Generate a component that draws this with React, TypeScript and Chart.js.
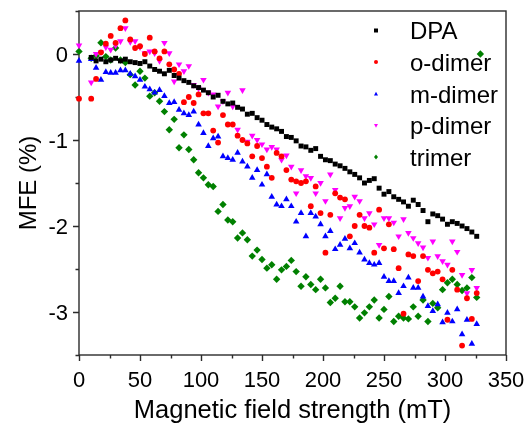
import React, { useEffect, useRef } from "react";
import { Chart, registerables } from "chart.js";

Chart.register(...registerables);

// Magnetic field strength (mT)
const fields = [0, 10, 14, 18, 22, 26, 30, 34, 38, 42, 46, 50, 54, 58, 62, 66, 70, 74, 78, 82, 86, 90, 94, 98, 102, 106, 110, 114, 118, 122, 126, 130, 134, 138, 142, 146, 150, 154, 158, 162, 166, 170, 174, 178, 182, 186, 190, 194, 198, 202, 206, 210, 214, 218, 222, 226, 230, 234, 238, 242, 246, 250, 254, 258, 262, 266, 270, 274, 278, 282, 286, 290, 294, 298, 302, 306, 310, 314, 318, 322, 326, 329];

// MFE (%) per series
const dpa = [null,
  -0.04, -0.08, -0.06, -0.09, -0.07, -0.05, -0.08, -0.06, -0.09, -0.10,
  -0.11, -0.09, -0.14, -0.18, -0.20, -0.23, -0.19, -0.25, -0.28, -0.31,
  -0.33, -0.37, -0.39, -0.42, -0.45, -0.50, -0.48, -0.55, -0.58, -0.57,
  -0.62, -0.64, -0.70, -0.69, -0.74, -0.77, -0.82, -0.85, -0.87, -0.90,
  -0.96, -0.97, -1.01, -1.07, -1.08, -1.12, -1.10, -1.19, -1.23, -1.24,
  -1.28, -1.30, -1.33, -1.37, -1.40, -1.44, -1.50, -1.47, -1.45, -1.56,
  -1.63, -1.60, -1.66, -1.69, -1.72, -1.77, -1.70, -1.75, -1.82, -1.95,
  -1.86, -1.88, -1.92, -1.98, -1.95, -1.97, -2.00, -2.03, -2.07, -2.12,
  null];

const oDimer = [-0.52,
  -0.52, -0.29, 0.02, 0.12, 0.21, 0.13, 0.30, 0.39, 0.17, 0.07,
  0.09, 0.00, 0.19, 0.03, -0.05, 0.03, -0.12, -0.18, -0.23, -0.56,
  -0.50, -0.57, -0.47, -0.69, -0.69, -0.89, -1.03, -0.71, -0.82, -0.82,
  -0.95, -1.00, -1.04, -1.19, -1.07, -1.21, -1.31, -1.44, -1.15, -1.19,
  -1.35, -1.46, -1.48, -1.50, -1.48, -1.77, -1.54, -1.85, -2.31, -1.87,
  -1.62, -1.67, -1.69, -2.12, -2.00, -1.87, -2.00, -2.02, -2.31, -1.81,
  -2.26, -1.98, -2.27, -2.49, -3.02, -2.33, -2.35, -2.64, -2.35, -2.51,
  -2.55, -2.53, -2.62, -3.09, -2.51, -2.74, -3.39, -2.84, -3.08, -2.78,
  null];

const mDimer = [-0.08,
  -0.06, -0.16, -0.30, -0.21, -0.22, -0.22, -0.19, -0.19, -0.23, -0.26,
  -0.30, -0.38, -0.41, -0.45, -0.42, -0.49, -0.57, -0.56, -0.65, -0.69,
  -0.71, -0.67, -0.82, -0.92, -1.07, -0.98, -0.96, -1.19, -1.21, -1.23,
  -1.15, -1.25, -1.31, -1.44, -1.35, -1.52, -1.40, -1.66, -1.75, -1.77,
  -1.69, -1.77, -1.95, -1.85, -2.12, -1.85, -1.89, -1.98, -2.12, -2.06,
  -2.27, -2.22, -2.15, -2.26, -2.20, -2.31, -2.39, -2.43, -2.45, -2.43,
  -2.59, -2.64, -2.64, -2.78, -2.70, -2.60, -2.72, -2.72, -2.82, -2.93,
  -2.99, -2.91, -3.12, -3.01, -3.11, -2.97, -3.26, -3.09, -3.37, -3.14,
  null];

const pDimer = [0.10,
  -0.33, 0.00, 0.02, 0.08, 0.05, 0.10, 0.15, 0.30, 0.14, 0.15,
  0.08, 0.01, 0.03, 0.01, -0.08, 0.13, 0.01, -0.32, -0.12, -0.20,
  -0.14, -0.36, -0.40, -0.30, -0.45, -0.47, -0.61, -0.55, -0.45, -0.61,
  -0.88, -0.42, -1.02, -0.95, -1.00, -1.05, -1.11, -1.08, -1.11, -1.23,
  -1.18, -1.31, -1.62, -1.35, -1.42, -1.44, -1.62, -1.50, -1.71, -1.40,
  -1.58, -1.91, -1.79, -1.77, -1.66, -1.71, -1.91, -1.85, -1.98, -2.22,
  -1.91, -1.91, -1.96, -2.12, -1.92, -2.08, -2.14, -2.20, -2.25, -2.37,
  -2.18, -2.35, -2.41, -2.45, -2.18, -2.30, -2.57, -2.78, -2.51, -2.72,
  null];

const trimer = [0.03,
  -0.05, -0.02, 0.13, -0.03, -0.07, 0.07, -0.07, -0.10, -0.24, -0.36,
  -0.20, -0.28, -0.49, -0.45, -0.55, -0.67, -0.88, -0.76, -1.09, -0.94,
  -1.11, -1.23, -1.38, -1.44, -1.52, -1.54, -1.83, -1.75, -1.93, -1.95,
  -2.14, -2.08, -2.16, -2.35, -2.28, -2.39, -2.49, -2.45, -2.62, -2.51,
  -2.47, -2.40, -2.53, -2.70, -2.59, -2.68, -2.74, -2.62, -2.72, -2.89,
  -2.84, -2.70, -2.88, -2.88, -2.94, -3.07, -3.01, -2.94, -2.86, -3.07,
  -2.97, -2.82, -3.11, -3.05, -3.07, -3.08, -2.94, -3.05, -2.86, -3.11,
  -2.90, -2.95, -2.74, -2.66, -2.62, -2.68, -2.75, -2.72, -2.60, -2.83,
  0.00];

const seriesLabels = ["DPA", "o-dimer", "m-dimer", "p-dimer", "trimer"];
const seriesColors = ["#000000", "#ff0000", "#0000ff", "#ff00ff", "#008000"];
const xTickValues = [0, 25, 50, 75, 100, 125, 150, 175, 200, 225, 250, 275, 300, 325, 350];
const xTickLabels = ["0", "50", "100", "150", "200", "250", "300", "350"];
const yTickValues = [-3.5, -3, -2.5, -2, -1.5, -1, -0.5, 0, 0.5];
const yTickLabels = ["-3", "-2", "-1", "0"];
const xTitle = "Magnetic field strength (mT)";
const yTitle = "MFE (%)";

const FONT = "'Liberation Sans', Arial, Helvetica, sans-serif";

function toPoints(vals: (number | null)[]) {
  const out: { x: number; y: number }[] = [];
  vals.forEach((v, i) => {
    if (v !== null && v !== undefined) out.push({ x: fields[i], y: v });
  });
  return out;
}

function drawMarker(ctx: CanvasRenderingContext2D, idx: number, x: number, y: number, r: number) {
  ctx.beginPath();
  if (idx === 0) {
    ctx.rect(x - r, y - r, 2 * r, 2 * r);
  } else if (idx === 1) {
    ctx.arc(x, y, r, 0, Math.PI * 2);
  } else if (idx === 2) {
    ctx.moveTo(x, y - r * 1.1);
    ctx.lineTo(x + r, y + r * 0.8);
    ctx.lineTo(x - r, y + r * 0.8);
    ctx.closePath();
  } else if (idx === 3) {
    ctx.moveTo(x, y + r * 1.1);
    ctx.lineTo(x + r, y - r * 0.8);
    ctx.lineTo(x - r, y - r * 0.8);
    ctx.closePath();
  } else {
    ctx.moveTo(x, y - r * 1.2);
    ctx.lineTo(x + r, y);
    ctx.lineTo(x, y + r * 1.2);
    ctx.lineTo(x - r, y);
    ctx.closePath();
  }
  ctx.fillStyle = seriesColors[idx];
  ctx.fill();
}

const framePlugin = {
  id: "frameTicks",
  beforeDatasetsDraw(chart: any) {
    const { ctx, chartArea: a, scales } = chart;
    const xs = scales.x;
    const ys = scales.y;
    ctx.save();
    ctx.strokeStyle = "#2b2b2b";
    ctx.lineWidth = 1.4;
    ctx.strokeRect(a.left, a.top, a.right - a.left, a.bottom - a.top);
    ctx.beginPath();
    for (const v of xTickValues) {
      const p = Math.round(xs.getPixelForValue(v)) + 0.5;
      const len = v % 50 === 0 ? 6 : 3.5;
      ctx.moveTo(p, a.bottom);
      ctx.lineTo(p, a.bottom + len);
    }
    for (const v of yTickValues) {
      const p = Math.round(ys.getPixelForValue(v)) + 0.5;
      const len = Number.isInteger(v) ? 6 : 3.5;
      ctx.moveTo(a.left, p);
      ctx.lineTo(a.left - len, p);
    }
    ctx.stroke();

    // tick labels
    ctx.fillStyle = "#000";
    ctx.font = "22px " + FONT;
    ctx.textBaseline = "alphabetic";
    ctx.textAlign = "center";
    for (const t of xTickLabels) {
      ctx.fillText(t, xs.getPixelForValue(Number(t)), a.bottom + 32);
    }
    ctx.textAlign = "right";
    for (const t of yTickLabels) {
      ctx.fillText(t, a.left - 11, ys.getPixelForValue(Number(t)) + 8);
    }
    // axis titles
    ctx.font = "25.5px " + FONT;
    ctx.textAlign = "center";
    ctx.fillText(xTitle, (a.left + a.right) / 2, 418);
    ctx.save();
    ctx.translate(36, (a.top + a.bottom) / 2);
    ctx.rotate(-Math.PI / 2);
    ctx.font = "24px " + FONT;
    ctx.textAlign = "center";
    ctx.fillText(yTitle, 0, 0);
    ctx.restore();
    ctx.restore();
  },
  afterDraw(chart: any) {
    const { ctx } = chart;
    ctx.save();
    const rows = [30.5, 62, 94, 125.5, 157];
    ctx.font = "24px " + FONT;
    ctx.textAlign = "left";
    ctx.textBaseline = "alphabetic";
    chart.data.datasets.forEach((ds: any, i: number) => {
      drawMarker(ctx, i, 376, rows[i], 2);
      ctx.fillStyle = "#000";
      ctx.fillText(ds.label, 410, rows[i] + 8.6);
    });
    ctx.restore();
  },
};

export default function App() {
  const ref = useRef<HTMLCanvasElement>(null);
  useEffect(() => {
    document.body.style.margin = "0";
    if (!ref.current) return;
    const all = [dpa, oDimer, mDimer, pDimer, trimer];
    const styles = [
      { pointStyle: "rect", pointRadius: 3.5, rotation: 0 },
      { pointStyle: "circle", pointRadius: 2.9, rotation: 0 },
      { pointStyle: "triangle", pointRadius: 3.8, rotation: 0 },
      { pointStyle: "triangle", pointRadius: 3.8, rotation: 180 },
      { pointStyle: "rectRot", pointRadius: 3.7, rotation: 0 },
    ];
    const chart = new Chart(ref.current, {
      type: "scatter",
      data: {
        datasets: all.map((vals, i) => ({
          label: seriesLabels[i],
          data: toPoints(vals),
          backgroundColor: seriesColors[i],
          borderColor: seriesColors[i],
          borderWidth: 0,
          pointStyle: styles[i].pointStyle as any,
          pointRadius: styles[i].pointRadius,
          pointRotation: styles[i].rotation,
          pointHoverRadius: styles[i].pointRadius,
          clip: false as any,
        })),
      },
      options: {
        animation: false,
        responsive: false,
        maintainAspectRatio: false,
        layout: { padding: { top: 11, right: 26, left: 0, bottom: 0 } },
        plugins: {
          legend: { display: false },
          tooltip: { enabled: false },
        },
        scales: {
          x: {
            type: "linear",
            min: 0,
            max: 350,
            grid: { display: false },
            border: { display: false },
            ticks: { display: false, stepSize: 50 },
            title: { display: false },
            afterFit: (s: any) => {
              s.height = 68;
            },
          },
          y: {
            type: "linear",
            min: -3.5,
            max: 0.5,
            grid: { display: false },
            border: { display: false },
            ticks: { display: false, stepSize: 0.5 },
            title: { display: false },
            afterFit: (s: any) => {
              s.width = 79;
            },
          },
        },
      },
      plugins: [framePlugin],
    });
    return () => chart.destroy();
  }, []);
  return (
    <div style={{ position: "absolute", left: 0, top: 0, width: 532, height: 423, background: "#fff" }}>
      <canvas ref={ref} width={532} height={423} style={{ display: "block", width: 532, height: 423 }} />
    </div>
  );
}
